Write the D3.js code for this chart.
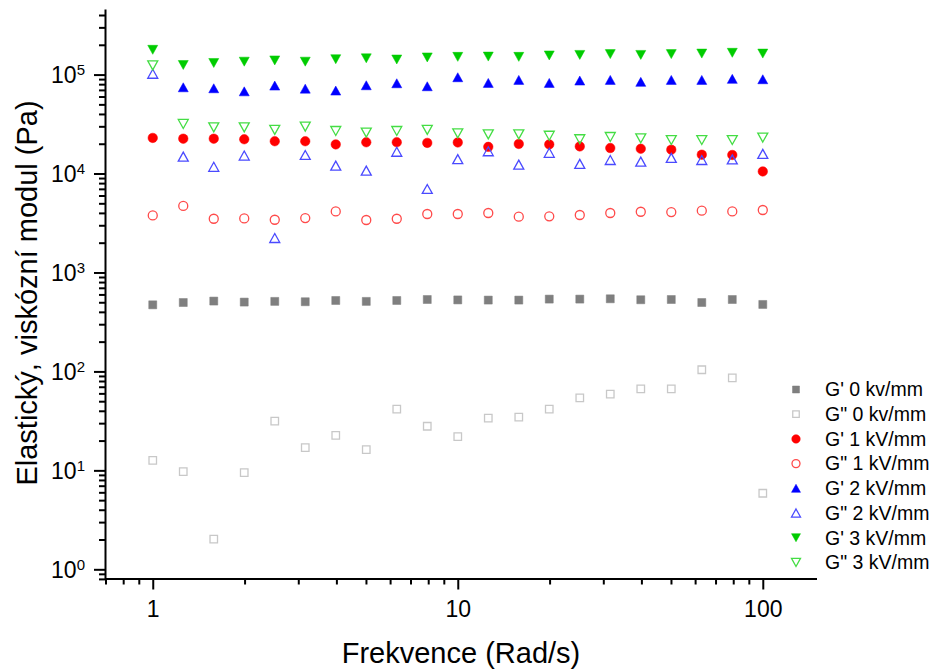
<!DOCTYPE html>
<html>
<head>
<meta charset="utf-8">
<script src="https://cdn.jsdelivr.net/npm/d3@7"></script>
<style>
  html, body { margin: 0; padding: 0; background: #fff; }
  svg { display: block; font-family: "Liberation Sans", Arial, sans-serif; }
</style>
</head>
<body>
<svg id="chart" width="939" height="672"></svg>
<script>
// ---- data ----
const freq = [1, 1.259, 1.585, 1.995, 2.512, 3.162, 3.981, 5.012, 6.31, 7.943, 10,
              12.59, 15.85, 19.95, 25.12, 31.62, 39.81, 50.12, 63.1, 79.43, 100];

const gp0  = [471, 497, 514, 502, 510, 506, 521, 510, 521, 533, 528,
              526, 526, 538, 538, 542, 530, 533, 497, 533, 475];
const gpp0 = [12.6, 9.7, 2.02, 9.5, 31.4, 17.0, 22.6, 16.2, 41.5, 27.9, 21.9,
              33.7, 34.5, 41.5, 54, 58.9, 66.6, 66.6, 104, 86, 5.87];
const gp1  = [22900, 22500, 22500, 22200, 21200, 21200, 19700, 20700, 20700, 20400, 20600,
              18600, 19900, 19700, 18800, 18100, 17800, 17400, 15500, 15400, 10500];
const gpp1 = [3770, 4700, 3490, 3520, 3410, 3550, 4140, 3390, 3490, 3900, 3900,
              3990, 3660, 3690, 3810, 3990, 4110, 4080, 4210, 4140, 4280];
const gp2  = [null, 74400, 72700, 67700, 77400, 72100, 68900, 78000, 81700, 76200, 94000,
              82400, 88400, 82400, 87000, 88400, 84400, 88400, 88400, 90500, 89700];
const gpp2 = [102000, 14800, 11700, 15200, 2230, 15400, 12000, 10700, 16600, 6980, 14000,
              16800, 12300, 16200, 12500, 13700, 13200, 14400, 13700, 13900, 15800];
const gp3  = [178000, 125000, 131000, 135000, 139000, 135000, 143000, 146000, 142000, 149000, 151000,
              152000, 151000, 156000, 158000, 161000, 158000, 161000, 163000, 166000, 163000];
const gpp3 = [124000, 31700, 29300, 29300, 27600, 29800, 26900, 25900, 26900, 27600, 25500,
              24900, 24900, 24100, 22200, 23400, 22700, 21800, 21800, 21800, 23100];

const seriesNames = ["G' 0 kv/mm", "G\" 0 kv/mm", "G' 1 kV/mm", "G\" 1 kV/mm",
                     "G' 2 kV/mm", "G\" 2 kV/mm", "G' 3 kV/mm", "G\" 3 kV/mm"];
const seriesValues = [gp0, gpp0, gp1, gpp1, gp2, gpp2, gp3, gpp3];

const xMajorTicks = [1, 10, 100];
const xTickLabels = ["1", "10", "100"];
const yMajorTicks = [1, 10, 100, 1000, 10000, 100000];
const yTickExponents = ["0", "1", "2", "3", "4", "5"];

// ---- styles ----
const styles = [
  {shape: "square",  filled: true,  color: "#7f7f7f", size: 8},
  {shape: "square",  filled: false, color: "#c8c8c8", size: 7.5},
  {shape: "circle",  filled: true,  color: "#ff0000", size: 9.5},
  {shape: "circle",  filled: false, color: "#ff4a4a", size: 9},
  {shape: "up",      filled: true,  color: "#0000ff", size: 10},
  {shape: "up",      filled: false, color: "#4a4aff", size: 10},
  {shape: "down",    filled: true,  color: "#00cc00", size: 10},
  {shape: "down",    filled: false, color: "#44dd44", size: 10}
];

function shapePath(shape, s) {
  const h = s / 2;
  if (shape === "square") return `M${-h},${-h}H${h}V${h}H${-h}Z`;
  if (shape === "circle") {
    const r = h;
    return `M${r},0A${r},${r} 0 1,1 ${-r},0A${r},${r} 0 1,1 ${r},0Z`;
  }
  const th = s * 0.9 / 2;
  if (shape === "up") return `M0,${-th}L${h},${th}L${-h},${th}Z`;
  return `M0,${th}L${h},${-th}L${-h},${-th}Z`;
}

const svg = d3.select("#chart");
const x = d3.scaleLog().domain([0.7, 150]).range([105.5, 816.5]);
const y = d3.scaleLog().domain([0.8, 4.6e5]).range([578.9, 9]);

const axisY0 = 578.5;
const axisX0 = 105;

// minor ticks
const xMinor = [];
[0.1, 1, 10].forEach(d => { for (let k = 2; k <= 9; k++) { const v = k * d; if (v >= 0.7 && v <= 150 && v !== 1 && v !== 10 && v !== 100) xMinor.push(v); } });
const yMinor = [];
[0.1, 1, 10, 100, 1000, 10000, 100000].forEach(d => { for (let k = 2; k <= 9; k++) { const v = k * d; if (v >= 0.8 && v <= 4.6e5) yMinor.push(v); } });

// x axis
const gx = svg.append("g").attr("transform", `translate(0,${axisY0})`)
  .call(d3.axisBottom(x).tickValues(xMajorTicks).tickSize(11).tickSizeOuter(0)
        .tickFormat((d, i) => xTickLabels[i]));
gx.select(".domain").attr("stroke", "#000").attr("stroke-width", 2);
gx.selectAll(".tick line").attr("stroke", "#000").attr("stroke-width", 2);
gx.selectAll(".tick text").attr("y", 38).attr("dy", 0)
  .attr("font-size", 23).attr("fill", "#000")
  .attr("font-family", '"Liberation Sans", Arial, sans-serif');

const gxm = svg.append("g").attr("transform", `translate(0,${axisY0})`)
  .call(d3.axisBottom(x).tickValues(xMinor).tickSize(6).tickSizeOuter(0).tickFormat(""));
gxm.select(".domain").remove();
gxm.selectAll(".tick line").attr("stroke", "#000").attr("stroke-width", 2);

// y axis
const gy = svg.append("g").attr("transform", `translate(${axisX0},0)`)
  .call(d3.axisLeft(y).tickValues(yMajorTicks).tickSize(11).tickSizeOuter(0).tickFormat(""));
gy.select(".domain").attr("stroke", "#000").attr("stroke-width", 2);
gy.selectAll(".tick line").attr("stroke", "#000").attr("stroke-width", 2);
gy.selectAll(".tick text").remove();
gy.selectAll(".tick").each(function(d, i) {
  const t = d3.select(this).append("text")
    .attr("x", -20).attr("y", 8.3)
    .attr("text-anchor", "end").attr("fill", "#000")
    .attr("font-family", '"Liberation Sans", Arial, sans-serif');
  t.append("tspan").attr("font-size", 23).text("10");
  t.append("tspan").attr("font-size", 15).attr("dy", -8.5).text(yTickExponents[i]);
});

const gym = svg.append("g").attr("transform", `translate(${axisX0},0)`)
  .call(d3.axisLeft(y).tickValues(yMinor).tickSize(6).tickSizeOuter(0).tickFormat(""));
gym.select(".domain").remove();
gym.selectAll(".tick line").attr("stroke", "#000").attr("stroke-width", 2);

// axis titles
svg.append("text").attr("x", 461).attr("y", 663).attr("text-anchor", "middle")
  .attr("font-size", 29).attr("fill", "#000").text("Frekvence (Rad/s)");
svg.append("text").attr("transform", "translate(37,293) rotate(-90)")
  .attr("text-anchor", "middle").attr("font-size", 29).attr("fill", "#000")
  .text("Elastický, viskózní modul (Pa)");

// data points
seriesValues.forEach((vals, si) => {
  const st = styles[si];
  const pts = freq.map((f, i) => ({f, v: vals[i]})).filter(p => p.v != null);
  svg.append("g").selectAll("path").data(pts).enter().append("path")
    .attr("transform", p => `translate(${x(p.f)},${y(p.v)})`)
    .attr("d", shapePath(st.shape, st.size))
    .attr("fill", st.filled ? st.color : "none")
    .attr("stroke", st.color)
    .attr("stroke-width", st.filled ? 0.5 : 1.3);
});

// legend
const legY0 = 389.5, legDy = 24.7;
const leg = svg.append("g");
seriesNames.forEach((name, i) => {
  const st = styles[i];
  const yy = legY0 + i * legDy;
  const ls = st.shape === "square" ? st.size - 1 : st.size - 1;
  leg.append("path").attr("transform", `translate(796,${yy})`)
    .attr("d", shapePath(st.shape, ls))
    .attr("fill", st.filled ? st.color : "none")
    .attr("stroke", st.color).attr("stroke-width", st.filled ? 0.5 : 1.3);
  leg.append("text").attr("x", 825).attr("y", yy + 6.8)
    .attr("font-size", 19.5).attr("fill", "#000").text(name);
});
</script>
</body>
</html>
